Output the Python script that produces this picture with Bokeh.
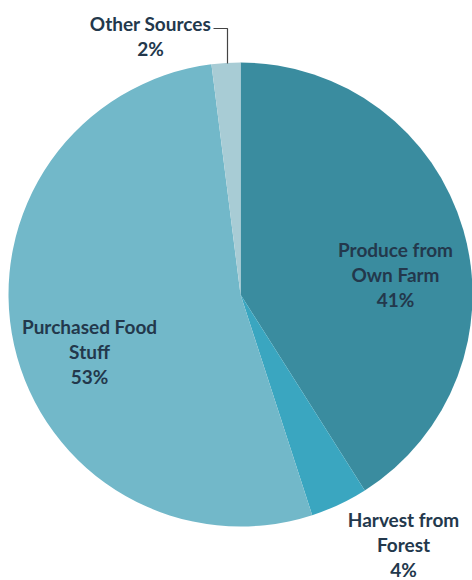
import numpy as np
from bokeh.plotting import figure
from bokeh.models import ColumnDataSource, Range1d
from bokeh.core.properties import value
from bokeh.embed import file_html
from bokeh.resources import INLINE

# ---- data ----
categories = ["Produce from Own Farm", "Harvest from Forest", "Purchased Food Stuff", "Other Sources"]
shares = [41, 4, 53, 2]
label_lines = [["Produce from", "Own Farm", "41%"],
               ["Harvest from", "Forest", "4%"],
               ["Purchased Food", "Stuff", "53%"],
               ["Other Sources", "2%"]]
colors = ["#3a8c9f", "#3aa6c0", "#72b8c9", "#a8ccd5"]

W, H = 472, 580
p = figure(width=W, height=H, x_range=Range1d(0, W), y_range=Range1d(0, H),
           output_backend="svg", toolbar_location=None, min_border=0)
p.axis.visible = False
p.grid.visible = False
p.outline_line_color = None
p.background_fill_color = "white"
p.border_fill_color = "white"

cx, cy, R = 240, H - 294, 232
frac = np.array(shares, dtype=float) / sum(shares)
cum = np.concatenate([[0], np.cumsum(frac)])
start = np.pi / 2 - cum[:-1] * 2 * np.pi
end = np.pi / 2 - cum[1:] * 2 * np.pi

src = ColumnDataSource(dict(cat=categories, start=start, end=end, color=colors))
p.wedge(x=cx, y=cy, radius=R, start_angle="start", end_angle="end",
        direction="clock", fill_color="color", line_color=None, source=src)

# label placement (pixel centres of first line, from top of window)
label_pos = [(395, 249), (403, 519), (89, 326), (150, 23)]
line_gap = 25
tx, ty, tt = [], [], []
for (lx, ly), lines in zip(label_pos, label_lines):
    for i, t in enumerate(lines):
        tx.append(lx)
        ty.append(H - (ly + i * line_gap))
        tt.append(t)
p.text(x=tx, y=ty, text=tt, text_align="center", text_baseline="middle",
       text_font=value("Lato"), text_font_style="bold", text_font_size="19px",
       text_color="#23384c")

# leader line for the small slice
p.line(x=[213, 227, 227], y=[H - 28, H - 28, H - 63], line_color="#444444", line_width=1.2)

open("out.html", "w").write(file_html(p, INLINE))
